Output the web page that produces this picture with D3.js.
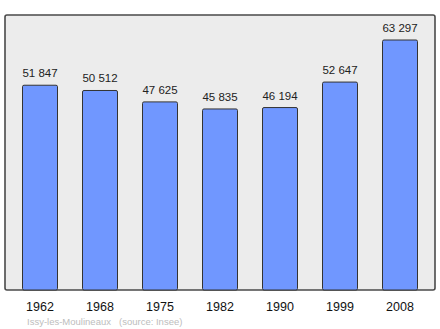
<!DOCTYPE html>
<html>
<head>
<meta charset="utf-8">
<script src="https://cdn.jsdelivr.net/npm/d3@7"></script>
<style>
  body { margin: 0; background: #fff; }
  text { font-family: "Liberation Sans", Arial, sans-serif; }
</style>
</head>
<body>
<svg id="chart" width="440" height="329"></svg>
<script>
const years = ["1962", "1968", "1975", "1982", "1990", "1999", "2008"];
const population = [51847, 50512, 47625, 45835, 46194, 52647, 63297];
const place = "Issy-les-Moulineaux";
const source = "(source: Insee)";

const svg = d3.select("#chart");
const W = 440, H = 329;
const frame = { x0: 5, y0: 15, x1: 435, y1: 290 };

// french style thousands
const fmt = d3.formatLocale({ decimal: ",", thousands: " ", grouping: [3], currency: ["", " €"] }).format(",d");

const x = d3.scaleBand()
  .domain(years)
  .range([10, 430])
  .paddingInner(25 / 60)
  .paddingOuter(12.5 / 60);

const y = d3.scaleLinear()
  .domain([0, d3.max(population)])
  .range([frame.y1, 40]);

const data = years.map((yr, i) => ({ year: yr, value: population[i] }));

// plot frame
svg.append("rect")
  .attr("x", frame.x0)
  .attr("y", frame.y0)
  .attr("width", frame.x1 - frame.x0)
  .attr("height", frame.y1 - frame.y0)
  .attr("rx", 2)
  .attr("fill", "#ececec")
  .attr("stroke", "#4a4a4a")
  .attr("stroke-width", 1.6);

// bars
svg.append("g")
  .selectAll("rect")
  .data(data)
  .join("rect")
  .attr("x", d => x(d.year))
  .attr("y", d => y(d.value))
  .attr("width", x.bandwidth())
  .attr("height", d => y(0) - y(d.value))
  .attr("rx", 1.5)
  .attr("fill", "#7097ff")
  .attr("stroke", "#333")
  .attr("stroke-width", 1);

// value labels
svg.append("g")
  .selectAll("text")
  .data(data)
  .join("text")
  .attr("x", d => x(d.year) + x.bandwidth() / 2)
  .attr("y", d => y(d.value) - 8)
  .attr("text-anchor", "middle")
  .attr("font-size", 11.5)
  .attr("fill", "#222")
  .text(d => fmt(d.value));

// year axis labels
const axis = d3.axisBottom(x).tickSize(0).tickPadding(0);
const ax = svg.append("g")
  .attr("transform", `translate(0,${frame.y1})`)
  .call(axis);
ax.select(".domain").remove();
ax.selectAll("text")
  .attr("dy", null)
  .attr("y", 21)
  .attr("font-size", 12.5)
  .attr("font-family", "\"Liberation Sans\", Arial, sans-serif")
  .attr("fill", "#111");

// footer
svg.append("text")
  .attr("x", 27)
  .attr("y", 325)
  .attr("font-size", 9.5)
  .attr("fill", "#bdbdbd")
  .text(place);
svg.append("text")
  .attr("x", 119)
  .attr("y", 325)
  .attr("font-size", 9.5)
  .attr("fill", "#bdbdbd")
  .text(source);
</script>
</body>
</html>
